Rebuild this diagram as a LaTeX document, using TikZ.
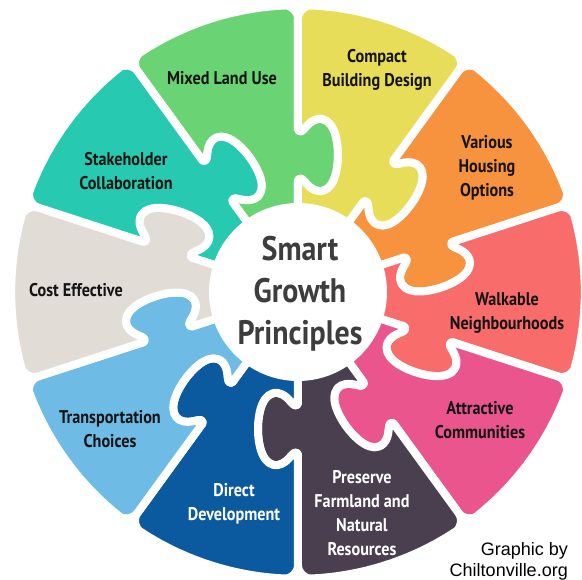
\documentclass[tikz,border=0pt]{standalone}
\usepackage{fontspec}
\setmainfont{PT Sans}[FakeStretch=0.88]
\newfontfamily\creditfont{Liberation Sans}

\definecolor{mixedgreen}{HTML}{6AD474}
\definecolor{compactyellow}{HTML}{E8DD58}
\definecolor{housingorange}{HTML}{F7923F}
\definecolor{walkred}{HTML}{F86C6B}
\definecolor{attractpink}{HTML}{EA558E}
\definecolor{farmplum}{HTML}{4A3F4F}
\definecolor{directblue}{HTML}{0B5AA0}
\definecolor{transportblue}{HTML}{6EBCE6}
\definecolor{costgrey}{HTML}{E2DCD7}
\definecolor{staketeal}{HTML}{27C9B0}

\tikzset{
  piece/.style={draw=white, line width=8pt, line join=round},
  piecetext/.style={font=\bfseries\fontsize{18.4}{24}\selectfont, align=center, text=black!92},
}

\begin{document}
\begin{tikzpicture}[x=1pt, y=1pt]
        \useasboundingbox (-298,-288) rectangle (284,292);
        \def\R{287}
        % ten pieces, each one with a knob on its clockwise edge
        \foreach \b/\col in {90/mixedgreen, 54/compactyellow, 18/housingorange,
            -18/walkred, -54/attractpink, -90/farmplum, -126/directblue,
            -162/transportblue, 162/costgrey, 126/staketeal} {
          \path[piece, fill=\col]
            ([rotate=\b]60,0) -- ([rotate=\b]112,0)
            .. controls ([rotate=\b]118,-5) and ([rotate=\b]103,-8) .. ([rotate=\b]101,-20)
            .. controls ([rotate=\b]99,-35) and ([rotate=\b]120,-40) .. ([rotate=\b]137,-40)
            .. controls ([rotate=\b]154,-40) and ([rotate=\b]175,-35) .. ([rotate=\b]173,-20)
            .. controls ([rotate=\b]171,-8) and ([rotate=\b]156,-5) .. ([rotate=\b]162,0)
            {[rounded corners=14pt] -- ([rotate=\b]230,0)
              \foreach \a in {0,3,...,36} { -- ({\b+\a}:\R) }
              -- ([rotate=\b+36]230,0)}
            -- ([rotate=\b+36]162,0)
            .. controls ([rotate=\b+36]156,-5) and ([rotate=\b+36]171,-8) .. ([rotate=\b+36]173,-20)
            .. controls ([rotate=\b+36]175,-35) and ([rotate=\b+36]154,-40) .. ([rotate=\b+36]137,-40)
            .. controls ([rotate=\b+36]120,-40) and ([rotate=\b+36]99,-35) .. ([rotate=\b+36]101,-20)
            .. controls ([rotate=\b+36]103,-8) and ([rotate=\b+36]118,-5) .. ([rotate=\b+36]112,0)
            -- ([rotate=\b+36]60,0) -- cycle;
        }
        \fill[white] (0,0) circle (89);

        \node[font=\bfseries\fontsize{34}{42}\selectfont, align=center, text=black!76] (centre) at (2,-2) {Smart\\Growth\\Principles};

        \node[piecetext] (mixed) at (-76,214) {Mixed Land Use};
        \node[piecetext] (compact) at (79,222) {Compact\\Building Design};
        \node[piecetext] (housing) at (189,124) {Various\\Housing\\Options};
        \node[piecetext] (walkable) at (209,-21) {Walkable\\Neighbourhoods};
        \node[piecetext] (attractive) at (182,-128) {Attractive\\Communities};
        \node[piecetext, text=white] (farmland) at (64,-221) {Preserve\\Farmland and\\Natural\\Resources};
        \node[piecetext, text=white] (direct) at (-64,-212) {Direct\\Development};
        \node[piecetext] (transport) at (-188,-137) {Transportation\\Choices};
        \node[piecetext] (cost) at (-222,2) {Cost Effective};
        \node[piecetext] (stakeholder) at (-172,121) {Stakeholder\\Collaboration};

        \node[font=\creditfont\fontsize{18}{21}\selectfont, align=right, anchor=south east, inner sep=0pt] (credit) at (270,-288) {Graphic by\\Chiltonville.org};
    \end{tikzpicture}
\end{document}
